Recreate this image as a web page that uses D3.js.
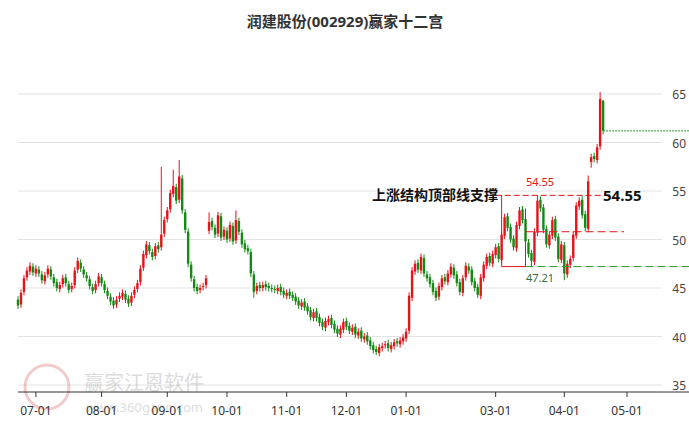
<!DOCTYPE html>
<html><head><meta charset="utf-8">
<script src="https://cdn.jsdelivr.net/npm/d3@7"></script>
<style>body{margin:0;background:#fff}svg{font-family:"Noto Sans","Noto Sans CJK SC",sans-serif}</style>
</head><body><svg id="c" width="689" height="427"></svg>
<script>
const closes=[43.2,44.5,46.0,46.8,47.3,46.6,
47.0,46.5,45.8,46.3,47.0,46.2,45.5,45.0,45.3,46.0,45.5,44.8,45.2,46.8,47.8,47.0,46.4,46.0,45.2,44.7,45.4,46.2,
45.5,44.8,44.2,43.6,43.2,43.8,44.2,44.5,43.8,43.4,44.2,44.8,45.5,47.0,48.5,49.5,48.8,48.2,49.3,49.0,50.5,52.0,
53.0,54.8,55.5,54.0,56.5,53.0,51.0,47.5,46.0,45.0,44.7,45.0,45.2,46.0,51.8,51.3,50.5,52.5,50.2,51.0,
50.0,51.5,49.8,52.0,50.8,49.5,49.0,48.8,46.5,44.6,45.2,45.0,45.3,45.1,45.0,44.9,44.8,45.0,44.6,44.3,
44.5,44.2,44.0,43.6,43.2,43.5,43.0,42.6,42.0,42.5,41.9,41.4,41.0,41.6,41.8,41.2,40.7,40.3,40.8,41.5,
41.0,40.6,40.9,40.2,40.5,39.8,40.0,39.5,39.0,38.6,38.4,38.9,39.0,39.2,38.8,39.1,39.4,39.3,39.6,39.9,
40.5,44.2,46.8,47.5,46.9,48.2,46.5,46.0,45.4,44.6,44.0,45.2,46.0,45.7,46.5,47.2,46.3,45.5,44.6,46.0,47.3,46.8,45.6,45.0,44.3,46.1,47.4,48.2,47.6,48.5,
49.2,48.0,50.5,52.3,51.2,50.0,49.2,51.5,53.0,52.0,49.8,48.5,47.8,50.8,54.0,53.2,51.0,49.5,50.5,52.0,50.2,48.0,49.5,
46.5,47.5,48.0,50.5,53.5,54.0,52.5,51.2,56.0,58.5,58.3,59.5,64.5,61.2];
const opens=[43.8,43.3,44.6,46.1,46.7,47.2,
46.5,46.9,46.4,45.7,46.4,46.9,46.1,45.6,44.9,45.4,46.1,45.4,44.9,45.3,46.9,47.6,46.9,46.3,45.9,45.1,44.8,45.5,
46.1,45.4,44.7,44.1,43.7,43.3,43.9,44.1,44.4,43.9,43.5,44.3,44.9,45.6,47.1,48.4,49.4,48.7,48.3,49.4,49.2,50.6,
52.1,53.1,54.7,55.4,54.1,56.3,52.8,50.8,47.4,45.9,45.1,44.8,45.1,45.3,50.9,51.9,51.2,50.6,52.4,50.3,
50.9,50.1,51.4,49.9,51.9,50.7,49.6,49.1,48.7,46.4,44.7,45.3,45.0,45.4,45.2,45.0,44.9,44.7,45.1,44.7,
44.2,44.6,44.3,44.1,43.7,43.1,43.6,43.1,42.7,41.9,42.6,42.0,41.5,40.9,41.5,41.9,41.3,40.8,40.2,40.7,
41.6,41.1,40.5,41.0,40.1,40.6,39.7,40.1,39.6,39.1,38.7,38.3,38.8,39.1,39.3,38.7,39.0,39.5,39.2,39.5,
39.8,40.6,44.0,46.7,47.6,46.8,48.1,46.4,46.1,45.5,44.7,44.1,45.1,46.1,45.6,46.4,47.1,46.4,45.6,44.5,46.1,47.2,46.9,45.7,45.1,44.2,46.0,47.3,48.3,47.5,
48.4,49.3,47.9,50.4,52.4,51.3,50.1,49.1,51.4,53.1,52.1,49.7,48.6,47.7,50.7,54.1,53.3,51.1,49.4,50.4,52.1,50.3,47.9,
49.4,46.4,47.4,48.1,50.4,53.4,54.1,52.6,51.1,58.0,58.6,58.2,59.6,64.3];
const highOverrides={48:57.5,52:57.2,54:58.2,64:52.8,73:53.0,174:54.55,191:56.6,195:65.2,196:64.4};
const lowOverrides={120:38.1,172:47.21,183:45.8,192:57.4,79:44.0};
const monthLabels=["07-01","08-01","09-01","10-01","11-01","12-01","01-01","03-01","04-01","05-01"];
const monthIdx=[6,28,50,70,90,110,130,160,183,204];
const yTicks=[35,40,45,50,55,60,65];
const resist=54.55, midLine=50.8, support=47.21, lastLine=61.2;

const svg=d3.select("#c");
const x=d3.scaleLinear().domain([0,204]).range([18,627]);
const y=d3.scaleLinear().domain([35,65]).range([385,94]);
svg.append("text").attr("x",345).attr("y",27).attr("text-anchor","middle").attr("font-size",15).attr("font-weight","bold").attr("fill","#333").text("润建股份(002929)赢家十二宫");
svg.selectAll(".g").data(yTicks).join("line").attr("x1",18).attr("x2",662).attr("y1",d=>y(d)).attr("y2",d=>y(d)).attr("stroke","#e3e3e3");
svg.selectAll(".yl").data(yTicks).join("text").attr("x",686).attr("y",d=>y(d)+5).attr("text-anchor","end").attr("font-size",12).attr("fill","#444").text(d=>d);
// watermark
const wm=svg.append("g").attr("opacity",0.25);
wm.append("circle").attr("cx",47).attr("cy",387).attr("r",22).attr("fill","none").attr("stroke","#c33").attr("stroke-width",3);
wm.append("text").attr("x",84).attr("y",390).attr("font-size",20).attr("fill","#777").text("赢家江恩软件");
wm.append("text").attr("x",86).attr("y",412).attr("font-size",13).attr("fill","#777").text("www.360gann.com");
// axis
svg.append("line").attr("x1",18).attr("x2",689).attr("y1",392).attr("y2",392).attr("stroke","#333");
svg.selectAll(".tk").data(monthIdx).join("line").attr("x1",d=>x(d)).attr("x2",d=>x(d)).attr("y1",392).attr("y2",397).attr("stroke","#333");
svg.selectAll(".tl").data(monthIdx).join("text").attr("x",d=>x(d)).attr("y",415).attr("text-anchor","middle").attr("font-size",12).attr("fill","#333").text((d,i)=>monthLabels[i]);
// candles
const data=closes.map((c,i)=>{const o=opens[i];return {i,o,c,h:highOverrides[i]??Math.max(o,c)+0.35,l:lowOverrides[i]??Math.min(o,c)-0.35};});
const col=d=>d.c>=d.o?"#e4141b":"#138a13";
const cg=svg.append("g");
cg.selectAll("line").data(data).join("line").attr("x1",d=>x(d.i)).attr("x2",d=>x(d.i)).attr("y1",d=>y(d.h)).attr("y2",d=>y(d.l)).attr("stroke",col);
cg.selectAll("rect").data(data).join("rect").attr("x",d=>x(d.i)-1.2).attr("width",2.4).attr("y",d=>y(Math.max(d.o,d.c))).attr("height",d=>Math.max(1,Math.abs(y(d.o)-y(d.c)))).attr("fill",col);
// annotations
const red="#e4141b",green="#2a9a2a";
svg.append("line").attr("x1",x(160)).attr("x2",x(196)).attr("y1",y(resist)).attr("y2",y(resist)).attr("stroke",red).attr("stroke-dasharray","6,3");
svg.append("path").attr("d",`M${x(162)},${y(resist)}V${y(support)}H${x(170)}V${y(53.2)}`).attr("fill","none").attr("stroke",red);
svg.append("line").attr("x1",x(170)).attr("x2",x(203)).attr("y1",y(midLine)).attr("y2",y(midLine)).attr("stroke",red).attr("stroke-dasharray","8,4");
svg.append("line").attr("x1",x(170)).attr("x2",689).attr("y1",y(support)).attr("y2",y(support)).attr("stroke",green).attr("stroke-dasharray","8,4");
svg.append("line").attr("x1",x(196)).attr("x2",689).attr("y1",y(lastLine)).attr("y2",y(lastLine)).attr("stroke",green).attr("stroke-dasharray","2,1");
svg.append("text").attr("x",540).attr("y",y(resist)-9).attr("text-anchor","middle").attr("font-size",11).attr("fill",red).text(resist.toFixed(2));
svg.append("text").attr("x",540).attr("y",y(support)+15).attr("text-anchor","middle").attr("font-size",11).attr("fill","#3a6a3a").text(support.toFixed(2));
svg.append("text").attr("x",372).attr("y",y(resist)+5).attr("font-size",14).attr("font-weight","bold").attr("fill","#111").text("上涨结构顶部线支撑");
svg.append("text").attr("x",603).attr("y",y(resist)+6).attr("font-size",15).attr("font-weight","bold").attr("fill","#111").text(resist.toFixed(2));
</script></body></html>
